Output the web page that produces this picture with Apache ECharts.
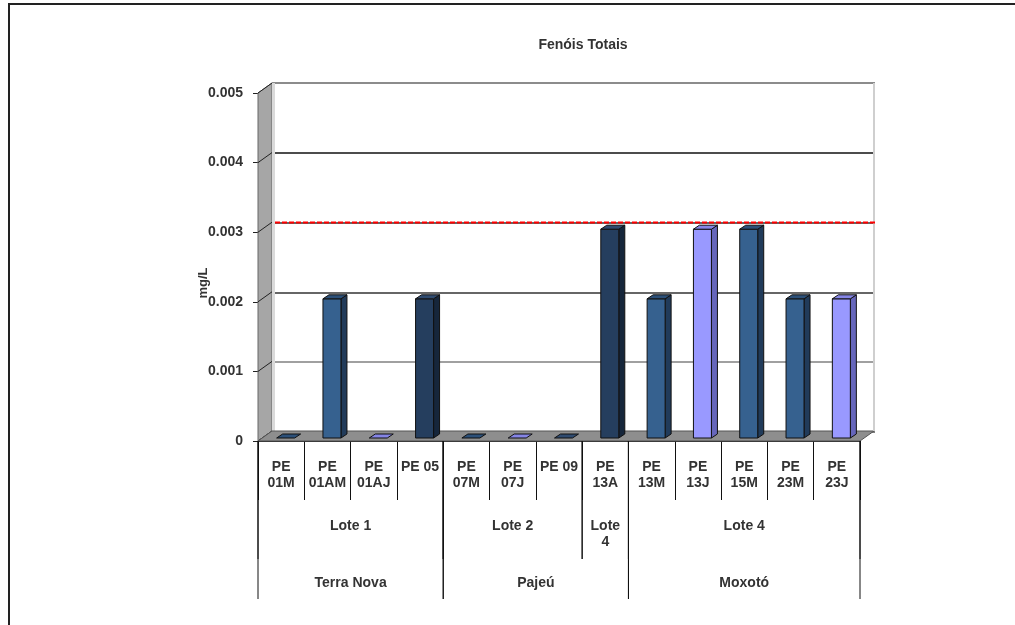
<!DOCTYPE html>
<html>
<head>
<meta charset="utf-8">
<script src="https://cdn.jsdelivr.net/npm/echarts@6/dist/echarts.min.js"></script>
<style>
    html, body { margin: 0; padding: 0; background: #fff; }
    #main { width: 1015px; height: 625px; }
</style>
</head>
<body>
<div id="main"></div>
<script>
// dados do gráfico
const categorias = ['PE\n01M', 'PE\n01AM', 'PE\n01AJ', 'PE 05', 'PE\n07M', 'PE\n07J', 'PE 09',
    'PE\n13A', 'PE\n13M', 'PE\n13J', 'PE\n15M', 'PE\n23M', 'PE\n23J'];
const valores = [0, 0.002, 0, 0.002, 0, 0, 0, 0.003, 0.002, 0.003, 0.003, 0.002, 0.002];
const lotes = ['Lote 1', 'Lote 2', 'Lote\n4', 'Lote 4'];
const loteTamanho = [4, 3, 1, 5];
const regioes = ['Terra Nova', 'Pajeú', 'Moxotó'];
const regiaoTamanho = [4, 4, 5];
const marcasY = [0, 0.001, 0.002, 0.003, 0.004, 0.005];
const limite = 0.003;

// estilo
const FONTE = '"Liberation Sans", Arial, sans-serif';
const DX = 14, DY = -10;           // profundidade das paredes
const tons = {
    navy: { frente: '#253e5e', lado: '#16263b', topo: '#2f4b70' },
    azul: { frente: '#36618f', lado: '#213b5a', topo: '#2c5079' },
    lilas: { frente: '#9999ff', lado: '#6666bb', topo: '#8585e6' }
};
const corBarra = ['azul', 'azul', 'lilas', 'navy', 'azul', 'lilas', 'navy',
    'navy', 'azul', 'lilas', 'azul', 'azul', 'lilas'];

function inicios(tamanhos) {
    let s = 0;
    return tamanhos.map(t => { const i = s; s += t; return i; });
}

let myChart = echarts.init(document.getElementById('main'));

function paredes(params, api) {
    const bw = api.size([1, 0])[0];
    const x0 = api.coord([0, 0])[0] - bw / 2;
    const x1 = api.coord([categorias.length - 1, 0])[0] + bw / 2;
    const yb = api.coord([0, 0])[1];
    const yt = api.coord([0, marcasY[marcasY.length - 1]])[1];
    const children = [];
    children.push({ type: 'polygon', shape: { points: [[x0, yt], [x0 + DX, yt + DY], [x0 + DX, yb + DY], [x0, yb]] },
        style: { fill: '#a6a6a6', stroke: '#666', lineWidth: 1 } });
    children.push({ type: 'rect', shape: { x: x0 + DX, y: yt + DY, width: 3, height: yb - yt }, style: { fill: '#dadada' } });
    marcasY.forEach(v => {
        const y = api.coord([0, v])[1];
        children.push({ type: 'line', shape: { x1: x0, y1: y, x2: x0 + DX, y2: y + DY }, style: { stroke: '#222', lineWidth: 1 } });
    });
    children.push({ type: 'polygon', shape: { points: [[x0, yb], [x1, yb], [x1 + DX, yb + DY], [x0 + DX, yb + DY]] },
        style: { fill: '#8e8e8e', stroke: '#555', lineWidth: 1 } });
    children.push({ type: 'rect', shape: { x: x1 + DX - 1, y: yt + DY, width: 2, height: yb - yt }, style: { fill: '#cfcfcf' } });
    return { type: 'group', children: children };
}

// linha vermelha de referência, na parede do fundo
function linhaLimite(params, api) {
    const bw = api.size([1, 0])[0];
    const y = api.coord([0, api.value(1)])[1];
    const x0 = api.coord([0, 0])[0] - bw / 2 + 3;
    const x1 = api.coord([categorias.length - 1, 0])[0] + bw / 2;
    return { type: 'line', shape: { x1: x0, y1: y, x2: x1, y2: y },
        style: { stroke: '#ff0000', lineWidth: 2, lineDash: [5, 2] } };
}

function barras3d(params, api) {
    const i = api.value(0);
    const topo = api.coord([i, api.value(1)]);
    const base = api.coord([i, 0]);
    const larg = 18, px = 6, py = -4;
    const xl = base[0] - larg / 2 + 4.5, xr = xl + larg;
    const yt = topo[1] - 3, yb = base[1] - 3;
    const t = tons[corBarra[params.dataIndex]];
    const borda = { stroke: '#111', lineWidth: 1 };
    const children = [];
    if (yb - yt > 0.5) {
        children.push({ type: 'polygon', shape: { points: [[xr, yt], [xr + px, yt + py], [xr + px, yb + py], [xr, yb]] },
            style: Object.assign({ fill: t.lado }, borda) });
        children.push({ type: 'polygon', shape: { points: [[xl, yt], [xr, yt], [xr, yb], [xl, yb]] },
            style: Object.assign({ fill: t.frente }, borda) });
    }
    children.push({ type: 'polygon', shape: { points: [[xl, yt], [xr, yt], [xr + px, yt + py], [xl + px, yt + py]] },
        style: Object.assign({ fill: t.topo }, borda) });
    return { type: 'group', children: children };
}

function grupos(nomes, textoY, linhaY) {
    return function (params, api) {
        const bw = api.size([1, 0])[0];
        const a = api.coord([api.value(0), 0]);
        const b = api.coord([api.value(2), 0]);
        const xl = a[0] - bw / 2, xr = b[0] + bw / 2, y0 = a[1];
        const linha = { stroke: '#111', lineWidth: 1 };
        return { type: 'group', children: [
            { type: 'line', shape: { x1: xl, y1: y0, x2: xl, y2: y0 + linhaY }, style: linha },
            { type: 'line', shape: { x1: xr, y1: y0, x2: xr, y2: y0 + linhaY }, style: linha },
            { type: 'text', style: { text: nomes[params.dataIndex], x: (xl + xr) / 2, y: y0 + textoY,
                align: 'center', verticalAlign: 'top', fontSize: 14, fontWeight: 'bold',
                fontFamily: FONTE, lineHeight: 16, fill: '#333' } }
        ] };
    };
}

const loteIni = inicios(loteTamanho);
const regiaoIni = inicios(regiaoTamanho);

myChart.setOption({
    animation: false,
    textStyle: { fontFamily: FONTE },
    graphic: [
        { type: 'rect', shape: { x: 9, y: 4, width: 1200, height: 800 }, style: { fill: null, stroke: '#222', lineWidth: 2 } },
        { type: 'text', x: 583, y: 45, style: { text: 'Fenóis Totais', align: 'center', verticalAlign: 'middle',
            fontSize: 14, fontWeight: 'bold', fontFamily: FONTE, fill: '#333' } },
        { type: 'text', x: 203, y: 283, rotation: Math.PI / 2, style: { text: 'mg/L', align: 'center', verticalAlign: 'middle',
            fontSize: 13, fontWeight: 'bold', fontFamily: FONTE, fill: '#333' } }
    ],
    grid: [
        { left: 258, right: 155, top: 93, bottom: 184 },
        { left: 272, right: 140, top: 83, bottom: 193 }
    ],
    xAxis: [
        { gridIndex: 0, type: 'category', data: categorias,
            axisLine: { show: true, lineStyle: { color: '#222' } },
            axisTick: { show: true, interval: 0, length: 59, lineStyle: { color: '#111', width: 1 } },
            axisLabel: { interval: 0, margin: 18, fontSize: 14, fontWeight: 'bold', color: '#333', lineHeight: 16, fontFamily: FONTE } },
        { gridIndex: 1, type: 'category', data: categorias, show: false }
    ],
    yAxis: [
        { gridIndex: 0, type: 'value', min: 0, max: 0.005, interval: 0.001,
            axisLine: { show: true, lineStyle: { color: '#666' } },
            axisTick: { show: true, length: 5, lineStyle: { color: '#222' } },
            axisLabel: { margin: 15, fontSize: 14, fontWeight: 'bold', color: '#333', fontFamily: FONTE },
            splitLine: { show: false } },
        { gridIndex: 1, type: 'value', min: 0, max: 0.005, interval: 0.001,
            axisLine: { show: false }, axisTick: { show: false }, axisLabel: { show: false },
            splitLine: { show: true, lineStyle: { width: 1.5, color: ['#555', '#808080', '#333', '#333', '#111', '#666'] } } }
    ],
    series: [
        { type: 'custom', name: 'paredes', xAxisIndex: 0, yAxisIndex: 0, z: 1, silent: true, clip: false,
            data: [[0, 0]], renderItem: paredes },
        { type: 'custom', name: 'limite', xAxisIndex: 1, yAxisIndex: 1, z: 2, silent: true, clip: false,
            data: [[0, limite]], renderItem: linhaLimite },
        { type: 'custom', name: 'Fenóis Totais', xAxisIndex: 0, yAxisIndex: 0, z: 3, clip: false,
            data: valores.map((v, i) => [i, v]), renderItem: barras3d },
        { type: 'custom', name: 'lotes', xAxisIndex: 0, yAxisIndex: 0, z: 3, clip: false, silent: true,
            data: lotes.map((n, k) => [loteIni[k], 0, loteIni[k] + loteTamanho[k] - 1]),
            renderItem: grupos(lotes, 77, 118) },
        { type: 'custom', name: 'regioes', xAxisIndex: 0, yAxisIndex: 0, z: 3, clip: false, silent: true,
            data: regioes.map((n, k) => [regiaoIni[k], 0, regiaoIni[k] + regiaoTamanho[k] - 1]),
            renderItem: grupos(regioes, 134, 158) }
    ]
});
window.onresize = function () {
    myChart.resize();
};
</script>
</body>
</html>
